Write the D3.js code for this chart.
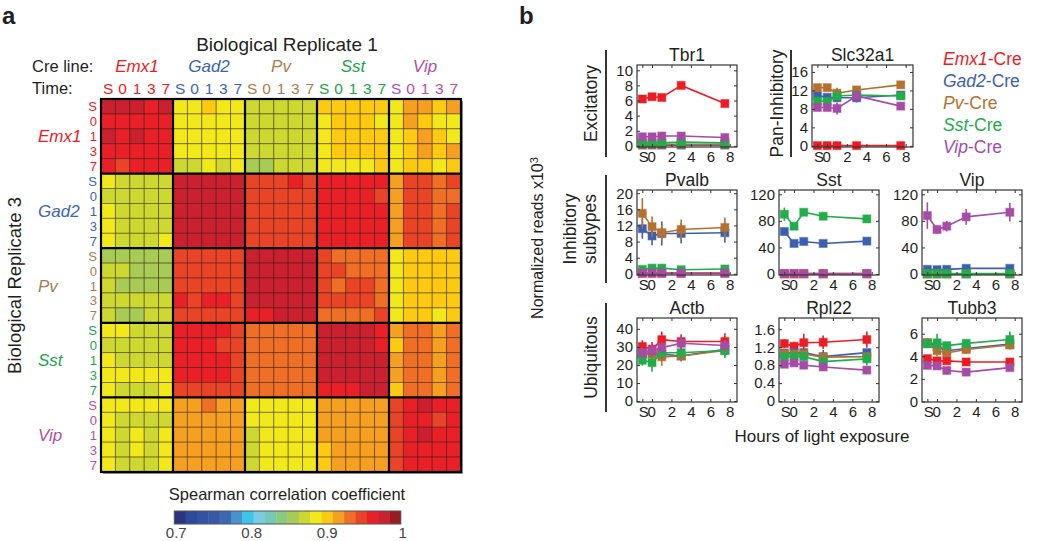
<!DOCTYPE html>
<html>
<head>
<meta charset="utf-8">
<script src="https://cdn.jsdelivr.net/npm/d3@7"></script>
<style>
  body { margin: 0; background: #fff; }
  text { font-family: Arial, "Liberation Sans", sans-serif; fill: #231f20; }
</style>
</head>
<body>
<svg id="fig" width="1050" height="541"></svg>
<script>
// ---------- data: panel a (Spearman correlation, replicate 3 rows x replicate 1 columns)
const creLines = ["Emx1", "Gad2", "Pv", "Sst", "Vip"];
const timePoints = ["S", "0", "1", "3", "7"];
const creColors = ["#ed1c24", "#3b63b0", "#a97c50", "#1aa34a", "#b24fa3"];

const corrRows = [
  // Emx1 S,0,1,3,7
  [.98,.98,.98,.96,.98, .89,.89,.90,.89,.89, .87,.87,.87,.87,.87, .90,.90,.90,.90,.90, .89,.92,.92,.90,.92],
  [.96,.96,.96,.96,.96, .89,.89,.89,.89,.89, .87,.87,.87,.87,.87, .89,.90,.90,.90,.89, .89,.92,.90,.89,.89],
  [.98,.96,.98,.96,.96, .89,.89,.89,.89,.89, .87,.87,.87,.87,.87, .89,.90,.90,.90,.90, .89,.90,.92,.90,.89],
  [.96,.96,.96,.96,.96, .89,.89,.89,.89,.89, .87,.87,.87,.87,.87, .89,.90,.90,.90,.90, .89,.90,.92,.90,.92],
  [.96,.95,.96,.96,.96, .87,.87,.89,.87,.89, .86,.86,.87,.87,.87, .89,.89,.89,.89,.90, .89,.90,.90,.89,.90],
  // Gad2
  [.89,.87,.87,.87,.87, .98,.98,.98,.98,.98, .95,.95,.95,.96,.95, .96,.96,.96,.96,.96, .92,.95,.95,.93,.95],
  [.87,.87,.87,.87,.87, .98,.98,.98,.98,.98, .95,.95,.95,.95,.95, .96,.96,.96,.96,.95, .92,.95,.95,.93,.93],
  [.89,.87,.87,.87,.87, .98,.98,.98,.98,.98, .95,.95,.95,.95,.95, .96,.96,.96,.96,.96, .92,.95,.95,.93,.95],
  [.89,.87,.87,.87,.87, .98,.98,.98,.98,.98, .95,.95,.95,.95,.95, .96,.96,.96,.96,.96, .92,.95,.95,.93,.95],
  [.89,.87,.87,.87,.89, .98,.98,.98,.98,.98, .95,.95,.95,.95,.95, .96,.96,.96,.96,.96, .92,.95,.95,.93,.95],
  // Pv
  [.86,.86,.86,.86,.86, .95,.95,.95,.95,.95, .98,.98,.98,.98,.98, .95,.93,.93,.93,.93, .89,.90,.90,.90,.90],
  [.87,.87,.86,.86,.86, .95,.95,.95,.95,.95, .98,.98,.98,.98,.98, .95,.95,.93,.93,.93, .89,.90,.90,.90,.90],
  [.87,.86,.86,.86,.86, .95,.95,.95,.95,.95, .98,.98,.98,.98,.98, .95,.93,.95,.95,.93, .89,.90,.90,.90,.90],
  [.87,.87,.87,.87,.87, .96,.95,.96,.96,.95, .98,.98,.98,.98,.98, .95,.95,.95,.95,.93, .89,.90,.90,.90,.90],
  [.87,.86,.86,.87,.87, .95,.95,.95,.95,.95, .96,.96,.98,.98,.98, .93,.93,.93,.93,.95, .89,.90,.90,.89,.90],
  // Sst
  [.89,.89,.87,.87,.87, .96,.96,.96,.96,.95, .93,.93,.93,.93,.93, .98,.98,.98,.98,.96, .92,.93,.93,.92,.93],
  [.87,.87,.87,.87,.87, .96,.96,.96,.95,.95, .93,.93,.93,.93,.93, .98,.98,.98,.98,.96, .90,.93,.93,.92,.93],
  [.89,.87,.87,.87,.87, .96,.96,.96,.96,.95, .93,.93,.93,.93,.93, .98,.98,.98,.98,.98, .92,.93,.93,.92,.93],
  [.89,.89,.89,.89,.89, .96,.96,.96,.96,.95, .93,.93,.93,.93,.93, .98,.98,.98,.98,.98, .92,.93,.93,.92,.93],
  [.89,.87,.87,.87,.89, .95,.95,.95,.95,.95, .93,.93,.93,.93,.93, .96,.96,.96,.98,.98, .90,.93,.93,.92,.93],
  // Vip
  [.89,.89,.89,.89,.89, .92,.92,.93,.92,.92, .89,.89,.89,.89,.89, .92,.92,.92,.92,.92, .95,.96,.98,.96,.96],
  [.89,.87,.87,.87,.87, .92,.92,.92,.92,.92, .89,.89,.89,.89,.89, .92,.92,.92,.92,.92, .95,.96,.96,.95,.96],
  [.89,.87,.89,.87,.89, .92,.92,.92,.92,.92, .87,.89,.89,.89,.89, .92,.92,.92,.92,.92, .95,.96,.98,.96,.96],
  [.89,.87,.89,.87,.89, .92,.92,.92,.92,.92, .87,.89,.89,.89,.89, .90,.92,.92,.92,.92, .95,.96,.96,.96,.96],
  [.89,.87,.87,.87,.89, .92,.92,.92,.92,.92, .87,.89,.89,.89,.89, .90,.92,.92,.92,.92, .95,.96,.96,.96,.96]
];

const cbColors = ["#2b3481", "#2d4a9c", "#3352a3", "#3a58a8", "#3d68b1", "#4a92cd", "#3cc3ee", "#7acde0",
  "#76c9b4", "#8dca7e", "#a8cb55", "#cdd931", "#f2e91a", "#fdca12", "#f6a022", "#ef6f27",
  "#ea4428", "#ea2029", "#cb2030", "#9b1c20"];
const cbTicks = [0.7, 0.8, 0.9, 1];

// ---------- data: panel b (normalized reads x10^3, order Emx1, Gad2, Pv, Sst, Vip)
const hours = [-1, 0, 1, 3, 7.5];
const hourTicks = [-1, 0, 2, 4, 6, 8];
const hourLabels = ["S", "0", "2", "4", "6", "8"];
const lineColors = ["#ec1c24", "#3d5fb0", "#b4712f", "#22ad4b", "#a64ca5"];

const tbr1 = [[6.2, 6.5, 6.4, 8.0, 5.6], [0.1, 0.1, 0.1, 0.1, 0.1], [0.2, 0.2, 0.2, 0.2, 0.2], [0.4, 0.45, 0.4, 0.5, 0.4], [1.2, 1.2, 1.3, 1.3, 1.1]];
const tbr1Err = [[0.2, 0.2, 0.2, 0.4, 0.2], [0, 0, 0, 0, 0], [0.1, 0.1, 0.1, 0.1, 0.1], [0.1, 0.1, 0.1, 0.1, 0.1], [0.2, 0.2, 0.2, 0.2, 0.2]];
const slc32a1 = [[0.05, 0.05, 0.05, 0.05, 0.05], [10.9, 10.5, 10.4, 10.4, 11.0], [12.6, 12.6, 11.4, 12.1, 13.2], [9.7, 9.6, 10.8, 11.0, 10.8], [8.3, 8.3, 8.1, 10.8, 8.6]];
const slc32a1Err = [[0, 0, 0, 0, 0], [0.5, 0.4, 0.6, 1.0, 0.5], [0.8, 0.4, 1.2, 0.4, 0.4], [0.5, 0.5, 0.5, 0.4, 0.6], [0.7, 0.5, 1.3, 1.2, 0.8]];
const pvalb = [[0.1, 0.1, 0.1, 0.1, 0.1], [11.2, 9.4, 10.0, 10.0, 10.2], [15.0, 11.7, 10.2, 11.0, 11.5], [1.1, 1.4, 1.4, 1.0, 1.2], [0.2, 0.2, 0.2, 0.2, 0.2]];
const pvalbErr = [[0, 0, 0, 0, 0], [2.5, 2.3, 3.0, 2.5, 2.5], [3.8, 2.5, 2.0, 2.5, 2.5], [0.2, 0.2, 0.2, 0.2, 0.2], [0.1, 0.1, 0.1, 0.1, 0.1]];
const sst = [[0.3, 0.3, 0.3, 0.3, 0.3], [64, 46, 49, 46, 49.5], [0.5, 0.5, 0.5, 0.5, 0.5], [90, 72, 93, 87, 83], [0.5, 0.5, 0.5, 0.5, 0.5]];
const sstErr = [[0, 0, 0, 0, 0], [3, 2, 2, 1.5, 2], [0, 0, 0, 0, 0], [10, 4, 3, 4, 5], [0, 0, 0, 0, 0]];
const vip = [[0.2, 0.2, 0.2, 0.2, 0.2], [7, 6.5, 7, 8.5, 8.5], [0.3, 0.3, 0.3, 0.3, 0.3], [0.5, 0.5, 0.5, 0.5, 0.5], [88, 67, 72, 86, 93]];
const vipErr = [[0, 0, 0, 0, 0], [1, 1, 1, 1, 1], [0, 0, 0, 0, 0], [0, 0, 0, 0, 0], [20, 6, 8, 12, 14]];
const actb = [[30.2, 28.7, 34, 33, 33], [26, 26.4, 26, 25, 28.7], [26.4, 26, 24.5, 25, 28], [22.6, 21.3, 26.8, 26.8, 28], [26.8, 27.9, 29.6, 32, 30.8]];
const actbErr = [[3.5, 4, 4.5, 4, 4.5], [3, 3, 3, 3, 3], [3, 4, 5, 3, 4], [3, 5, 3, 3, 4], [3, 3, 3, 4, 3]];
const rpl22 = [[1.28, 1.22, 1.30, 1.31, 1.37], [1.07, 1.08, 1.08, 0.99, 1.08], [1.05, 1.05, 1.05, 0.98, 0.99], [0.99, 0.99, 0.99, 0.88, 0.94], [0.82, 0.85, 0.80, 0.76, 0.69]];
const rpl22Err = [[0.1, 0.1, 0.2, 0.15, 0.18], [0.05, 0.1, 0.08, 0.15, 0.08], [0.08, 0.08, 0.08, 0.08, 0.08], [0.08, 0.08, 0.1, 0.05, 0.15], [0.04, 0.05, 0.04, 0.06, 0.04]];
const tubb3 = [[3.8, 3.6, 3.6, 3.5, 3.5], [5.2, 4.9, 4.5, 4.7, 5.1], [5.2, 4.5, 4.3, 4.6, 5.0], [5.1, 5.2, 4.95, 5.15, 5.5], [3.2, 3.15, 2.75, 2.6, 3.0]];
const tubb3Err = [[0.2, 0.15, 0.1, 0.1, 0.1], [0.3, 0.3, 0.3, 0.3, 0.3], [0.4, 0.5, 0.3, 0.4, 0.4], [0.3, 0.8, 0.2, 0.3, 0.7], [0.3, 0.2, 0.1, 0.1, 0.2]];

const svg = d3.select("#fig");
svg.append("rect").attr("width", 1050).attr("height", 541).attr("fill", "#fff");

// ================= panel a =================
const nSamples = creLines.length * timePoints.length;
const x = d3.scaleBand().domain(d3.range(nSamples)).range([101, 461]);
const y = d3.scaleBand().domain(d3.range(nSamples)).range([99, 472]);
const color = d3.scaleQuantize().domain([0.7, 1]).range(cbColors);

svg.append("text").attr("x", 2).attr("y", 24).style("font-size", "24px").style("font-weight", "bold").text("a");

svg.append("text").attr("x", 287).attr("y", 51).attr("text-anchor", "middle")
    .style("font-size", "19px").text("Biological Replicate 1");
svg.append("text").attr("x", 32).attr("y", 72).style("font-size", "16.5px").text("Cre line:");
svg.append("text").attr("x", 32).attr("y", 94).style("font-size", "16.5px").text("Time:");

// shadow
svg.append("rect").attr("x", x(0) + 2).attr("y", y(0) + 2).attr("width", 360).attr("height", 373).attr("fill", "#9a9a9a");

// cells
const cells = [];
corrRows.forEach((row, i) => row.forEach((v, j) => cells.push({ i, j, v })));
svg.append("g").selectAll("rect").data(cells).enter().append("rect")
    .attr("x", d => x(d.j))
    .attr("y", d => y(d.i))
    .attr("width", x.bandwidth())
    .attr("height", y.bandwidth())
    .attr("fill", d => color(d.v))
    .attr("stroke", "rgba(40,20,0,0.45)")
    .attr("stroke-width", 0.9);

// block lines
const blockLines = svg.append("g").attr("stroke", "#000").attr("stroke-width", 2.2);
d3.range(1, creLines.length).forEach(k => {
  blockLines.append("line").attr("x1", x(k * 5)).attr("x2", x(k * 5)).attr("y1", 99).attr("y2", 472);
  blockLines.append("line").attr("y1", y(k * 5)).attr("y2", y(k * 5)).attr("x1", 101).attr("x2", 461);
});
svg.append("rect").attr("x", 101).attr("y", 99).attr("width", 360).attr("height", 373)
    .attr("fill", "none").attr("stroke", "#000").attr("stroke-width", 2.2);

// column and row labels
creLines.forEach((c, k) => {
  svg.append("text").attr("x", x(k * 5) + x.bandwidth() * 2.5).attr("y", 72)
      .attr("text-anchor", "middle").style("font-size", "17px").style("font-style", "italic")
      .style("fill", creColors[k]).text(c);
  svg.append("text").attr("x", 38).attr("y", y(k * 5) + y.bandwidth() * 2.5).attr("dy", "0.36em")
      .style("font-size", "17px").style("font-style", "italic")
      .style("fill", creColors[k]).text(c);
  timePoints.forEach((t, m) => {
    svg.append("text").attr("x", x(k * 5 + m) + x.bandwidth() / 2).attr("y", 94)
        .attr("text-anchor", "middle").style("font-size", "15.5px").style("fill", creColors[k]).text(t);
    svg.append("text").attr("x", 97).attr("y", y(k * 5 + m) + y.bandwidth() / 2 + 5)
        .attr("text-anchor", "end").style("font-size", "13px").style("fill", creColors[k]).text(t);
  });
});

svg.append("text").attr("transform", "translate(21,285.5) rotate(-90)").attr("text-anchor", "middle")
    .style("font-size", "18.5px").text("Biological Replicate 3");

// colorbar
svg.append("text").attr("x", 287).attr("y", 500).attr("text-anchor", "middle")
    .style("font-size", "16.5px").text("Spearman correlation coefficient");
const cb = d3.scaleLinear().domain([0.7, 1]).range([174.3, 400.7]);
const step = (1 - 0.7) / cbColors.length;
svg.append("g").selectAll("rect").data(cbColors).enter().append("rect")
    .attr("x", (d, i) => cb(0.7 + i * step))
    .attr("y", 511)
    .attr("width", (d, i) => cb(0.7 + (i + 1) * step) - cb(0.7 + i * step) + 0.4)
    .attr("height", 13)
    .attr("fill", d => d);
svg.append("rect").attr("x", 174.3).attr("y", 511).attr("width", 226.4).attr("height", 13)
    .attr("fill", "none").attr("stroke", "#555").attr("stroke-width", 1);
cbTicks.forEach(t => {
  svg.append("text").attr("x", cb(t) + 2).attr("y", 538).attr("text-anchor", "middle")
      .style("font-size", "15px").style("fill", "#444").text(t === 1 ? "1" : t.toFixed(1));
});

// ================= panel b =================
svg.append("text").attr("x", 519).attr("y", 24).style("font-size", "24px").style("font-weight", "bold").text("b");

function drawPanel(title, means, errs, box, yDomain, yTicks, fmt) {
  const g = svg.append("g");
  const xs = d3.scaleLinear().domain([-1.55, 8.75]).range([box.left, box.right]);
  const ys = d3.scaleLinear().domain(yDomain).range([box.bottom, box.top]);

  g.append("text").attr("x", (box.left + box.right) / 2).attr("y", box.top - 4)
      .attr("text-anchor", "middle").style("font-size", "17.5px").text(title);

  // series
  means.forEach((vals, s) => {
    const pts = vals.map((v, k) => ({ t: hours[k], v, e: errs[s][k] }));
    const sg = g.append("g");
    sg.selectAll("line").data(pts).enter().append("line")
        .attr("x1", d => xs(d.t)).attr("x2", d => xs(d.t))
        .attr("y1", d => ys(Math.max(d.v - d.e, yDomain[0])))
        .attr("y2", d => ys(d.v + d.e))
        .attr("stroke", lineColors[s]).attr("stroke-width", 1.6);
    sg.append("path").datum(pts)
        .attr("d", d3.line().x(d => xs(d.t)).y(d => ys(d.v)))
        .attr("fill", "none").attr("stroke", lineColors[s]).attr("stroke-width", 1.6);
    sg.selectAll("rect").data(pts).enter().append("rect")
        .attr("x", d => xs(d.t) - 4).attr("y", d => ys(d.v) - 4)
        .attr("width", 8).attr("height", 8)
        .attr("fill", lineColors[s])
        .attr("stroke", lineColors[s]).attr("stroke-opacity", 0.45).attr("stroke-width", 1.2);
  });

  // frame and ticks
  g.append("rect").attr("x", box.left).attr("y", box.top)
      .attr("width", box.right - box.left).attr("height", box.bottom - box.top)
      .attr("fill", "none").attr("stroke", "#333").attr("stroke-width", 1.2);

  const axisStyle = sel => {
    sel.select(".domain").remove();
    sel.selectAll("line").attr("stroke", "#333");
    sel.selectAll("text").style("font-size", "15px").style("fill", "#231f20")
        .style("font-family", "Arial, 'Liberation Sans', sans-serif");
  };
  g.append("g").attr("transform", `translate(${box.left},0)`)
      .call(d3.axisLeft(ys).tickValues(yTicks).tickFormat(fmt).tickSize(-3).tickPadding(4)).call(axisStyle);
  g.append("g").attr("transform", `translate(${box.right},0)`)
      .call(d3.axisRight(ys).tickValues(yTicks).tickFormat("").tickSize(-3)).call(axisStyle);
  g.append("g").attr("transform", `translate(0,${box.bottom})`)
      .call(d3.axisBottom(xs).tickValues(hourTicks).tickFormat((d, i) => hourLabels[i]).tickSize(-3).tickPadding(4))
      .call(axisStyle)
      .selectAll("text").attr("dx", d => d === -1 ? "1px" : d === 0 ? "-1px" : 0);
  g.append("g").attr("transform", `translate(0,${box.top})`)
      .call(d3.axisTop(xs).tickValues(hourTicks).tickFormat("").tickSize(-3)).call(axisStyle);
}

const col1 = { left: 637, right: 737 };
const col2 = { left: 779, right: 879 };
const col3 = { left: 922, right: 1022 };
const row1 = { top: 65, bottom: 147 };
const row2 = { top: 190, bottom: 275 };
const row3 = { top: 318, bottom: 402 };
const box = (c, r) => Object.assign({}, c, r);
const intFmt = d3.format("d");

drawPanel("Tbr1", tbr1, tbr1Err, box(col1, row1), [-0.15, 10.7], [0, 2, 4, 6, 8, 10], intFmt);
drawPanel("Slc32a1", slc32a1, slc32a1Err, box({ left: 812, right: 913 }, row1), [-0.25, 17.5], [0, 4, 8, 12, 16], intFmt);
drawPanel("Pvalb", pvalb, pvalbErr, box(col1, row2), [-0.3, 20.8], [0, 4, 8, 12, 16, 20], intFmt);
drawPanel("Sst", sst, sstErr, box(col2, row2), [-1.5, 126.5], [0, 40, 80, 120], intFmt);
drawPanel("Vip", vip, vipErr, box(col3, row2), [-1.5, 126.5], [0, 40, 80, 120], intFmt);
drawPanel("Actb", actb, actbErr, box(col1, row3), [-0.5, 46], [0, 10, 20, 30, 40], intFmt);
drawPanel("Rpl22", rpl22, rpl22Err, box(col2, row3), [-0.02, 1.85], [0, 0.4, 0.8, 1.2, 1.6], d => d === 0 ? "0" : d3.format(".1f")(d));
drawPanel("Tubb3", tubb3, tubb3Err, box(col3, row3), [-0.05, 7.4], [0, 2, 4, 6], intFmt);

// group labels and separators
function groupLabel(lines, xText, lineX, y0, y1) {
  svg.append("line").attr("x1", lineX).attr("x2", lineX).attr("y1", y0).attr("y2", y1)
      .attr("stroke", "#000").attr("stroke-width", 1.6);
  lines.forEach((txt, i) => {
    svg.append("text").attr("transform", `translate(${xText[i]},${(y0 + y1) / 2}) rotate(-90)`)
        .attr("text-anchor", "middle").style("font-size", "17.5px").text(txt);
  });
}
groupLabel(["Excitatory"], [597], 606, 50, 157);
groupLabel(["Pan-Inhibitory"], [783], 791, 50, 157);
groupLabel(["Inhibitory", "subtypes"], [576, 596], 606, 175, 283);
groupLabel(["Ubiquitous"], [597], 606, 303, 412);

const yLab = svg.append("text").attr("transform", "translate(543,238) rotate(-90)")
    .attr("text-anchor", "middle").style("font-size", "16px");
yLab.append("tspan").text("Normalized reads x10");
yLab.append("tspan").attr("dy", "-0.45em").style("font-size", "11px").text("3");

svg.append("text").attr("x", 822).attr("y", 442).attr("text-anchor", "middle")
    .style("font-size", "17px").text("Hours of light exposure");

// legend
creLines.forEach((c, k) => {
  const t = svg.append("text").attr("x", 943).attr("y", 65 + k * 22).style("font-size", "17.5px");
  t.append("tspan").style("font-style", "italic").style("fill", lineColors[k]).text(c);
  t.append("tspan").style("fill", lineColors[k]).text("-Cre");
});
</script>
</body>
</html>
